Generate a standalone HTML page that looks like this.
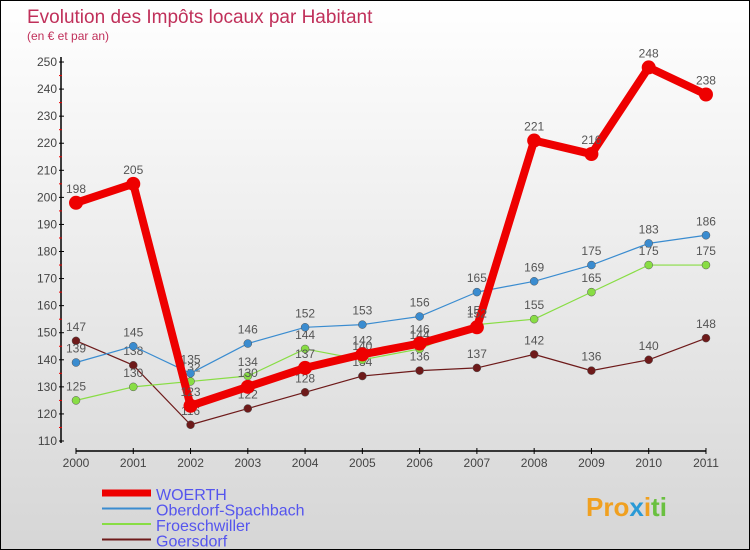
<!DOCTYPE html>
<html><head><meta charset="utf-8"><style>
body{margin:0}
#c{width:748px;height:548px;border:1px solid #000;background:linear-gradient(#fff,#d6d6d6);position:relative;font-family:"Liberation Sans",sans-serif;overflow:hidden}
svg{position:absolute;left:0;top:0}
</style></head><body>
<div id="c">
<svg id="s" width="750" height="550">
<text x="26" y="22" font-size="19" fill="#c0305a">Evolution des Impôts locaux par Habitant</text>
<text x="26" y="39" font-size="12" fill="#c0305a">(en € et par an)</text>
<text x="585" y="515" font-size="26" font-weight="bold"><tspan fill="#f0a020">Pro</tspan><tspan fill="#2a9ad6">x</tspan><tspan fill="#f0a020">i</tspan><tspan fill="#6ac040">ti</tspan></text>
</svg>
</div>
<script>
const years=["2000","2001","2002","2003","2004","2005","2006","2007","2008","2009","2010","2011"];
const yTicks=[110,120,130,140,150,160,170,180,190,200,210,220,230,240,250];
const woerth=[198,205,123,130,137,142,146,152,221,216,248,238];
const oberdorf=[139,145,135,146,152,153,156,165,169,175,183,186];
const froesch=[125,130,132,134,144,140,144,153,155,165,175,175];
const goersdorf=[147,138,116,122,128,134,136,137,142,136,140,148];
const series=[
 {name:"Goersdorf",vals:goersdorf,color:"#6e1a1a",w:1.2,r:4,key:"goersdorf"},
 {name:"Froeschwiller",vals:froesch,color:"#88dd44",w:1.2,r:4,key:"froeschwiller"},
 {name:"Oberdorf-Spachbach",vals:oberdorf,color:"#3a8cd0",w:1.2,r:4,key:"oberdorf-spachbach"},
 {name:"WOERTH",vals:woerth,color:"#ee0000",w:8,r:7,key:"woerth"}];
const NS="http://www.w3.org/2000/svg",s=document.getElementById('s');
const X=i=>75+i*57.27, Y=v=>440-(v-110)*2.707;
function el(t,a,p){const e=document.createElementNS(NS,t);for(const k in a)e.setAttribute(k,a[k]);(p||s).appendChild(e);return e;}
let ax=el('line',{x1:60,y1:56,x2:60,y2:442,stroke:'#000','stroke-width':1.5});


let xx=el('line',{x1:75,y1:450,x2:705,y2:450,stroke:'#000','stroke-width':1.5});


yTicks.forEach(v=>{el('line',{x1:58,x2:63,y1:Y(v),y2:Y(v),stroke:'#000'});
 if(v<250)el('line',{x1:58,x2:61,y1:Y(v+5),y2:Y(v+5),stroke:'#e00'});
 const t=el('text',{x:56,y:Y(v)+4,'text-anchor':'end','font-size':12,fill:'#444'});t.textContent=v;
 
 });
years.forEach((y,i)=>{el('line',{x1:X(i),x2:X(i),y1:447,y2:453,stroke:'#000'});
 const t=el('text',{x:X(i),y:466,'text-anchor':'middle','font-size':12,fill:'#444'});t.textContent=y;
 
 });
series.forEach(sr=>{
 const g=el('g',{});
 
 
 el('polyline',{points:sr.vals.map((v,i)=>X(i)+','+Y(v)).join(' '),fill:'none',stroke:sr.color,'stroke-width':sr.w,'stroke-linejoin':'round'},g);
 sr.vals.forEach((v,i)=>{const c=el('circle',{cx:X(i),cy:Y(v),r:sr.r,fill:sr.color,stroke:sr.w>2?'none':'#555','stroke-width':0.5},g);
  
  
  const t=el('text',{x:X(i),y:Y(v)-10,'text-anchor':'middle','font-size':12,fill:'#555'},g);t.textContent=v;});
});
series.slice().reverse().forEach((sr,k)=>{const y=492+k*15.5;
 const l=el('line',{x1:101,x2:150,y1:y,y2:y,stroke:sr.color,'stroke-width':sr.w>2?7:2});
 
 
 const t=el('text',{x:155,y:y+7,'font-size':16,fill:'#5555ee'});t.textContent=sr.name;
 
 });
</script>
</body></html>
